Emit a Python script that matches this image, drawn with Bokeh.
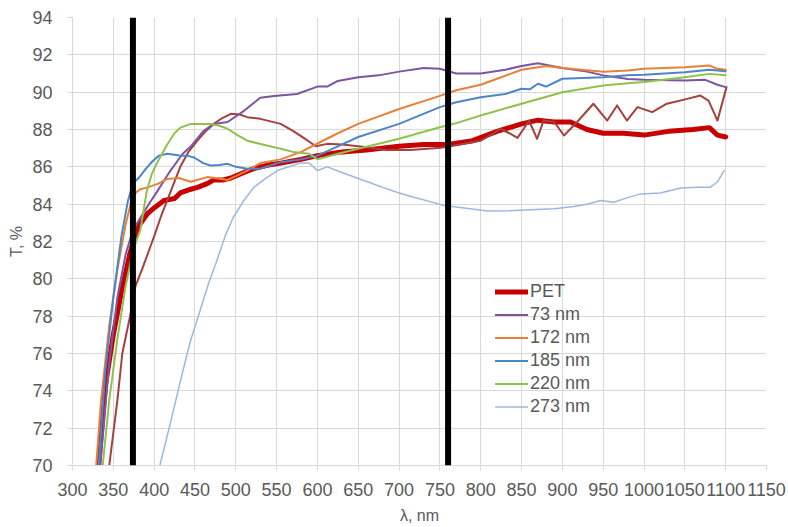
from bokeh.plotting import figure
from bokeh.models import FixedTicker, Span
from bokeh.embed import file_html
from bokeh.resources import INLINE

# ---- axes / reference lines ----
x_ticks = list(range(300, 1151, 50))
y_ticks = list(range(70, 95, 2))
band_edges = [374, 760]

# ---- series ----
pet_wl = [332, 340, 350, 360, 370, 376, 382, 392, 400, 412, 425, 432, 445, 453, 465, 473, 485, 494, 510, 522,
          540, 555, 580, 600, 630, 660, 700, 730, 760, 790, 820, 850, 870, 890, 910, 930, 950, 975, 1000, 1030,
          1060, 1080, 1090, 1100]
pet_t = [70, 74.2, 77.0, 79.3, 81.3, 82.2, 82.9, 83.5, 83.8, 84.2, 84.3, 84.6, 84.8, 84.9, 85.1, 85.3, 85.3, 85.4,
         85.7, 85.9, 86.1, 86.2, 86.4, 86.6, 86.8, 86.9, 87.1, 87.2, 87.2, 87.4, 87.9, 88.3, 88.5, 88.4, 88.4, 88.0,
         87.8, 87.8, 87.7, 87.9, 88.0, 88.1, 87.7, 87.6]

nm73_wl = [334, 345, 355, 365, 374, 385, 395, 404, 420, 435, 445, 460, 473, 490, 510, 530, 547, 575, 600, 612,
           625, 650, 675, 700, 730, 750, 770, 800, 830, 850, 870, 900, 930, 950, 980, 1000, 1050, 1075, 1090, 1100]
nm73_t = [70, 75.5, 79, 81.3, 82.6, 83.4, 84.1, 84.7, 85.8, 86.7, 87.1, 87.9, 88.3, 88.4, 89.0, 89.7, 89.8, 89.9,
          90.3, 90.3, 90.6, 90.8, 90.9, 91.1, 91.3, 91.25, 91.0, 91.0, 91.2, 91.4, 91.55, 91.3, 91.1, 90.9, 90.7,
          90.66, 90.62, 90.66, 90.4, 90.27]

nm172_wl = [329, 335, 345, 355, 365, 374, 383, 392, 405, 416, 430, 445, 465, 475, 490, 500, 514, 530, 555, 580,
            600, 625, 650, 700, 750, 770, 800, 825, 850, 880, 900, 950, 980, 1000, 1050, 1080, 1090, 1100]
nm172_t = [70, 73.5, 77.5, 80.5, 82.9, 84.5, 84.8, 84.9, 85.1, 85.35, 85.4, 85.2, 85.45, 85.4, 85.3, 85.5, 85.8,
           86.2, 86.4, 86.8, 87.25, 87.8, 88.3, 89.1, 89.8, 90.1, 90.4, 90.8, 91.2, 91.4, 91.3, 91.1, 91.16, 91.25,
           91.34, 91.43, 91.25, 91.2]

nm185_wl = [332, 340, 350, 360, 368, 374, 381, 390, 398, 406, 416, 425, 432, 440, 449, 460, 469, 480, 490, 500,
            514, 530, 555, 580, 600, 625, 650, 700, 750, 770, 800, 830, 850, 860, 870, 880, 900, 950, 980, 1000,
            1050, 1080, 1100]
nm185_t = [70, 75, 79, 82.3, 84.2, 85.1, 85.4, 85.9, 86.3, 86.6, 86.7, 86.65, 86.6, 86.6, 86.5, 86.2, 86.07, 86.1,
           86.16, 86.0, 85.9, 85.9, 86.25, 86.4, 86.6, 87.1, 87.6, 88.3, 89.2, 89.46, 89.73, 89.9, 90.18, 90.15,
           90.45, 90.3, 90.72, 90.8, 90.9, 90.93, 91.07, 91.2, 91.12]

nm220_wl = [337, 345, 355, 365, 374, 383, 391, 397, 404, 416, 425, 432, 445, 455, 469, 480, 490, 502, 514, 538,
            555, 570, 590, 600, 625, 650, 700, 750, 770, 800, 850, 900, 950, 980, 1000, 1050, 1080, 1100]
nm220_t = [70, 73.5, 76.8, 79.6, 81.5, 82.6, 84.7, 85.6, 86.25, 87.2, 87.8, 88.1, 88.3, 88.3, 88.3, 88.2, 88.04,
           87.7, 87.4, 87.14, 86.97, 86.8, 86.7, 86.4, 86.7, 86.97, 87.5, 88.12, 88.34, 88.75, 89.38, 90.0, 90.36,
           90.48, 90.54, 90.8, 90.98, 90.9]

nm273_wl = [407, 420, 432, 444, 457, 467, 477, 487, 497, 510, 522, 537, 551, 565, 579, 590, 600, 612, 630, 661,
            680, 700, 718, 737, 755, 780, 808, 835, 861, 890, 914, 930, 947, 963, 980, 996, 1020, 1045, 1065, 1081,
            1090, 1098]
nm273_t = [70, 72.3, 74.5, 76.6, 78.4, 79.8, 81.0, 82.3, 83.3, 84.2, 84.9, 85.4, 85.8, 86.0, 86.2, 86.2, 85.8,
           86.0, 85.7, 85.2, 84.9, 84.6, 84.37, 84.15, 83.93, 83.8, 83.63, 83.65, 83.7, 83.75, 83.88, 84.0, 84.2,
           84.1, 84.35, 84.55, 84.6, 84.87, 84.9, 84.9, 85.2, 85.8]

extra_wl = [345, 355, 361, 371, 377, 386, 396, 401, 408, 416, 424, 432, 442, 453, 463, 473, 483, 494, 505, 514,
            530, 555, 571, 585, 598, 612, 630, 653, 685, 714, 751, 775, 800, 812, 824, 835, 845, 852, 859, 864,
            869, 877, 890, 902, 918, 938, 955, 967, 979, 992, 1010, 1028, 1053, 1069, 1079, 1090, 1101]
extra_t = [70, 73.5, 76, 78.1, 79.6, 80.6, 81.8, 82.4, 83.3, 84.2, 85.1, 86.0, 86.8, 87.4, 87.9, 88.3, 88.6,
           88.84, 88.8, 88.66, 88.57, 88.3, 87.9, 87.5, 87.1, 87.23, 87.2, 87.09, 86.9, 86.9, 87.02, 87.2, 87.4,
           87.7, 88.04, 87.8, 87.55, 88.0, 88.48, 88.0, 87.5, 88.48, 88.4, 87.68, 88.4, 89.38, 88.48, 89.29, 88.48,
           89.2, 88.93, 89.38, 89.64, 89.82, 89.55, 88.48, 90.27]

FONT = "Liberation Sans"
TXT = "#595959"
GRID = "#d9d9d9"

p = figure(frame_width=694, frame_height=448, x_range=(300, 1150), y_range=(70, 94),
           output_backend="svg", toolbar_location=None,
           min_border_left=72, min_border_right=20, min_border_top=17, min_border_bottom=60)
p.outline_line_color = None
p.background_fill_color = "white"

for ax, ticks in ((p.xaxis[0], x_ticks), (p.yaxis[0], y_ticks)):
    ax.ticker = FixedTicker(ticks=ticks)
    ax.axis_line_color = GRID
    ax.major_tick_line_color = GRID
    ax.major_tick_out = 5
    ax.major_tick_in = 0
    ax.minor_tick_line_color = None
    ax.major_label_text_font = FONT
    ax.major_label_text_font_size = "18px"
    ax.major_label_text_color = TXT
    ax.axis_label_text_font = FONT
    ax.axis_label_text_font_size = "16px"
    ax.axis_label_text_font_style = "normal"
    ax.axis_label_text_color = TXT

p.xaxis.axis_label = "λ, nm"
p.yaxis.axis_label = "T, %"
p.xaxis.major_label_standoff = 12
p.xaxis.axis_label_standoff = 8
p.yaxis.major_label_standoff = 15
p.yaxis.axis_label_standoff = 4

p.xgrid.ticker = FixedTicker(ticks=x_ticks)
p.ygrid.ticker = FixedTicker(ticks=y_ticks)
p.grid.grid_line_color = GRID
p.grid.grid_line_width = 1

kw = dict(line_join="round", line_cap="round")
p.line(pet_wl, pet_t, line_color="#C80000", line_width=5, legend_label="PET", **kw)
p.line(extra_wl, extra_t, line_color="#A4403E", line_width=2, **kw)
p.line(nm73_wl, nm73_t, line_color="#7D549F", line_width=2, legend_label="73 nm", **kw)
p.line(nm172_wl, nm172_t, line_color="#E9803A", line_width=2, legend_label="172 nm", **kw)
p.line(nm185_wl, nm185_t, line_color="#4D86C6", line_width=2, legend_label="185 nm", **kw)
p.line(nm220_wl, nm220_t, line_color="#8FC24D", line_width=2, legend_label="220 nm", **kw)
p.line(nm273_wl, nm273_t, line_color="#9DB7DF", line_width=1.5, legend_label="273 nm", **kw)

for xb in band_edges:
    p.add_layout(Span(location=xb, dimension="height", line_color="black", line_width=6))

lg = p.legend[0]
lg.location = (423, 47)
lg.padding = 0
lg.margin = 0
lg.spacing = 0
lg.glyph_width = 33
lg.glyph_height = 23
lg.label_height = 23
lg.label_standoff = 2
lg.border_line_color = None
lg.background_fill_alpha = 0
lg.label_text_font = FONT
lg.label_text_font_size = "18px"
lg.label_text_color = TXT

open("out.html", "w").write(file_html(p, INLINE))
